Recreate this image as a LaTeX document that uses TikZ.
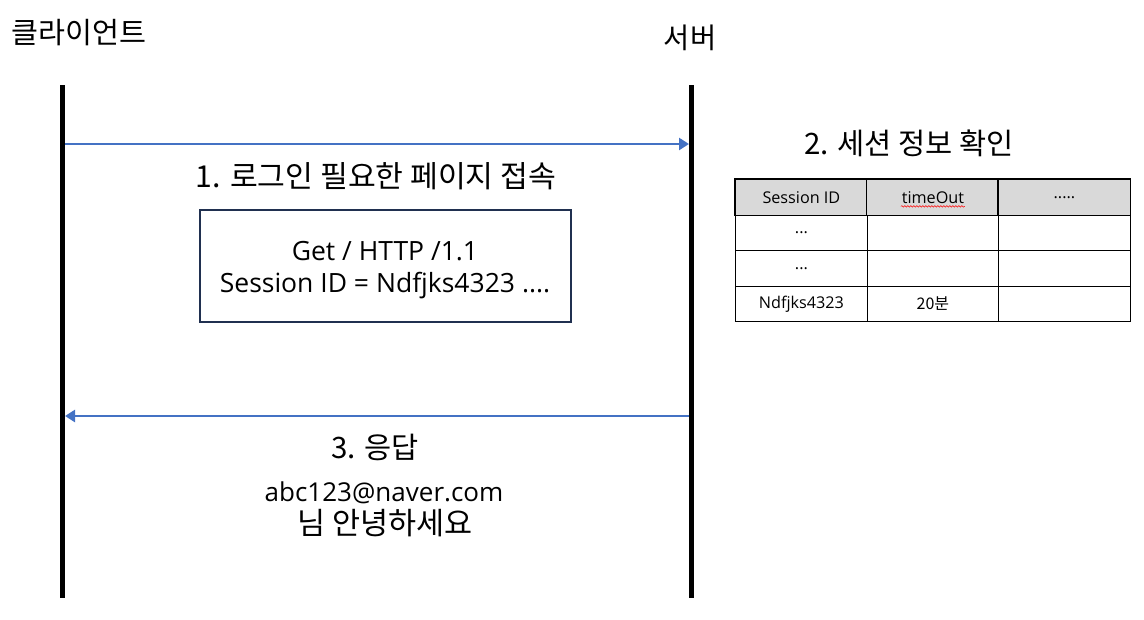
\documentclass[tikz,border=0pt]{standalone}
\usepackage{fontspec}
\setmainfont{Noto Sans CJK KR}
\newfontfamily\latinfont{Open Sans}
\usetikzlibrary{arrows.meta,decorations.pathmorphing}
\definecolor{arrowblue}{HTML}{4472C4}
\definecolor{boxnavy}{HTML}{203050}
\definecolor{headgray}{HTML}{D9D9D9}
\tikzset{
  lifeline/.style={line width=5pt,black},
  msg/.style={line width=2.8pt,arrowblue,-{Triangle[length=10pt,width=12pt]}},
  lbl/.style={font=\fontsize{29.5}{34}\selectfont,inner sep=0pt},
  boxtxt/.style={font=\latinfont\fontsize{26.5}{32}\selectfont,align=center,inner sep=0pt},
  cell/.style={draw=black,line width=1.3pt,minimum width=131.5pt,minimum height=35.5pt,inner sep=0pt,anchor=north west},
  celltxt/.style={font=\latinfont\fontsize{16.2}{18}\selectfont,inner sep=0pt},
  cellkr/.style={font=\fontsize{16}{18}\selectfont,inner sep=0pt},
}
\begin{document}
\begin{tikzpicture}[x=1pt,y=-1pt]
\useasboundingbox (0,0) rectangle (1144,619);
% headers
\node[lbl,font=\fontsize{29.3}{34}\selectfont,anchor=west] (client) at (11,33) {클라이언트};
\node[lbl,font=\fontsize{28.5}{34}\selectfont] (server) at (690,38) {서버};
% lifelines
\coordinate (ctop) at (62,85);
\coordinate (cbot) at (62,598);
\coordinate (stop) at (691,85);
\coordinate (sbot) at (691,598);
\draw[lifeline] (ctop) -- (cbot);
\draw[lifeline] (stop) -- (sbot);
% message 1
\coordinate (m1a) at (65,144);
\coordinate (m1b) at (689,144);
\draw[msg] (m1a) -- (m1b);
\node[lbl,font=\fontsize{30.2}{34}\selectfont] (l1) at (376,176) {1. 로그인 필요한 페이지 접속};
\node[draw=boxnavy,line width=1.6pt,minimum width=371pt,minimum height=112pt,anchor=north west,inner sep=0pt] (req) at (199,209) {};
\node[boxtxt] (reqtxt) at (385,270) {Get / HTTP /1.1\\Session ID = Ndfjks4323 ....};
% message 2
\node[lbl] (l2) at (909,143) {2. 세션 정보 확인};
\foreach \r in {0,1,2,3}{
  \foreach \c in {0,1,2}{
    \node[cell] (c\r\c) at (735+131.5*\c,179+35.5*\r) {};
  }
}
\foreach \c in {0,1,2}{
  \path[fill=headgray,draw=black,line width=1.3pt] (c0\c.north west) rectangle (c0\c.south east);
}
\node[celltxt] (h1) at (c00) {Session ID};
\node[celltxt] (h2) at (c01) {timeOut};
\node[celltxt] (h3) at (c02) {.....};
\coordinate (sqa) at ([xshift=-32pt,yshift=-9pt]c01.center);
\coordinate (sqb) at ([xshift=32pt,yshift=-9pt]c01.center);
\draw[red,line width=0.5pt,decorate,decoration={snake,amplitude=0.8pt,segment length=3pt}] (sqa) -- (sqb);
\node[celltxt] (r1) at (c10) {...};
\node[celltxt] (r2) at (c20) {...};
\node[celltxt] (r3) at (c30) {Ndfjks4323};
\node[cellkr] (r3b) at (c31) {20분};
% message 3
\coordinate (m3a) at (689,416);
\coordinate (m3b) at (65,416);
\draw[msg] (m3a) -- (m3b);
\node[lbl] (l3) at (375,447) {3. 응답};
\node[inner sep=0pt,font=\latinfont\fontsize{26}{30}\selectfont] (resp1) at (384,493) {abc123@naver.com};
\node[inner sep=0pt,font=\fontsize{30.5}{36}\selectfont] (resp2) at (385,523) {님 안녕하세요};
\end{tikzpicture}
\end{document}
